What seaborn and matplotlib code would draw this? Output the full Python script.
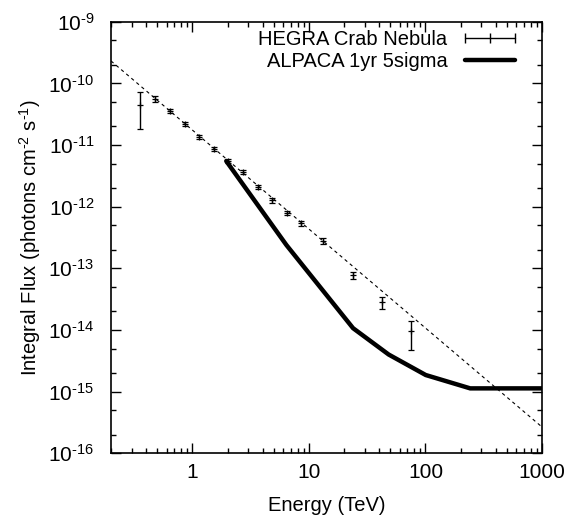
import numpy as np
import pandas as pd
import seaborn as sns
import matplotlib
matplotlib.use("Agg")
from matplotlib import pyplot as plt
from matplotlib.lines import Line2D
from matplotlib.ticker import LogLocator, FuncFormatter

# HEGRA Crab Nebula integral flux points
hegra_E = [0.352, 0.474, 0.637, 0.857, 1.13, 1.52, 2.01, 2.70, 3.63, 4.79,
           6.44, 8.49, 13.1, 23.7, 42.1, 74.6]
hegra_F = [4.5e-11, 5.6e-11, 3.56e-11, 2.19e-11, 1.35e-11, 8.6e-12, 5.6e-12,
           3.65e-12, 2.12e-12, 1.26e-12, 7.9e-13, 5.4e-13, 2.77e-13, 7.8e-14,
           2.84e-14, 9.5e-15]
hegra_err = [2.7e-11, 0.7e-11, 0.28e-11, 0.17e-11, 0.1e-11, 0.65e-12, 0.43e-12,
             0.28e-12, 0.16e-12, 0.1e-12, 0.6e-13, 0.45e-13, 0.28e-13, 1.05e-14,
             0.63e-14, 4.7e-15]

# power-law fit (dashed)
fit_E = [0.2, 1000]
fit_F = [2.31e-10, 2.67e-16]

# ALPACA 1yr 5sigma sensitivity
alpaca_E = [1.95, 6.4, 23.9, 48.3, 100.5, 242, 1000]
alpaca_F = [5.5e-12, 2.39e-13, 1.07e-14, 4.0e-15, 1.86e-15, 1.13e-15, 1.13e-15]

x_ticks = [1, 10, 100, 1000]
y_ticks = [1e-16, 1e-15, 1e-14, 1e-13, 1e-12, 1e-11, 1e-10, 1e-9]

sns.set_style("ticks")
plt.rcParams["font.family"] = ["Liberation Sans", "DejaVu Sans"]
plt.rcParams["mathtext.fontset"] = "custom"
plt.rcParams["mathtext.rm"] = "Liberation Sans"
plt.rcParams["mathtext.it"] = "Liberation Sans"
plt.rcParams["axes.unicode_minus"] = False
for k in ["text.color", "axes.labelcolor", "xtick.color", "ytick.color", "axes.edgecolor"]:
    plt.rcParams[k] = "black"

fs = 14.5

fig = plt.figure(figsize=(5.69, 5.15), dpi=100)
ax = fig.add_axes([111 / 569, 1 - 453.3 / 515, 431 / 569, 431.6 / 515])

df_fit = pd.DataFrame({"E": fit_E, "F": fit_F})
df_alp = pd.DataFrame({"E": alpaca_E, "F": alpaca_F})

sns.lineplot(data=df_fit, x="E", y="F", ax=ax, color="black", lw=0.8,
             linestyle=(0, (3, 3)), sort=False)
ax.errorbar(hegra_E, hegra_F, yerr=hegra_err, fmt="+", color="black",
            ms=5, mew=0.9, elinewidth=1.0, capsize=2.5, capthick=1.0)
sns.lineplot(data=df_alp, x="E", y="F", ax=ax, color="black", lw=3.2,
             sort=False, solid_joinstyle="miter")

ax.set_xscale("log")
ax.set_yscale("log")
ax.set_xlim(0.2, 1000)
ax.set_ylim(1e-16, 1e-9)

ax.set_xticks(x_ticks)
ax.set_yticks(y_ticks)
ax.xaxis.set_minor_locator(LogLocator(base=10, subs=np.arange(2, 10), numticks=100))
ax.yaxis.set_minor_locator(LogLocator(base=10, subs=(2, 5), numticks=100))
ax.xaxis.set_major_formatter(FuncFormatter(lambda v, p: f"{v:g}"))
ax.yaxis.set_major_formatter(FuncFormatter(
    lambda v, p: "10$^{\\text{-}%d}$" % round(-np.log10(v))))
ax.xaxis.set_minor_formatter(FuncFormatter(lambda v, p: ""))
ax.yaxis.set_minor_formatter(FuncFormatter(lambda v, p: ""))

ax.tick_params(which="both", direction="in", top=True, right=True, width=1)
ax.tick_params(which="major", length=7, labelsize=15)
ax.tick_params(axis="x", which="major", pad=7)
ax.tick_params(axis="y", which="major", pad=12)
ax.tick_params(which="minor", length=3.5)
for s in ax.spines.values():
    s.set_linewidth(1.2)

ax.set_xlabel("Energy (TeV)", fontsize=fs, labelpad=10)
ax.set_ylabel("Integral Flux (photons cm$^{\\text{-}2}$ s$^{\\text{-}1}$)",
              fontsize=fs, labelpad=4)

handles = [
    Line2D([], [], color="black", lw=1, marker="|", ms=7, mew=1),
    Line2D([], [], color="black", lw=3.2),
]
ax.legend(handles, ["HEGRA Crab Nebula", "ALPACA 1yr 5sigma"], frameon=False,
          markerfirst=False, numpoints=3, handlelength=3.1, handletextpad=0.55,
          labelspacing=0.15, borderpad=0, borderaxespad=0, fontsize=fs,
          loc="upper right", bbox_to_anchor=(521 / 569, 1 - 30 / 515),
          bbox_transform=fig.transFigure)

fig.savefig("out.png", dpi=100)
